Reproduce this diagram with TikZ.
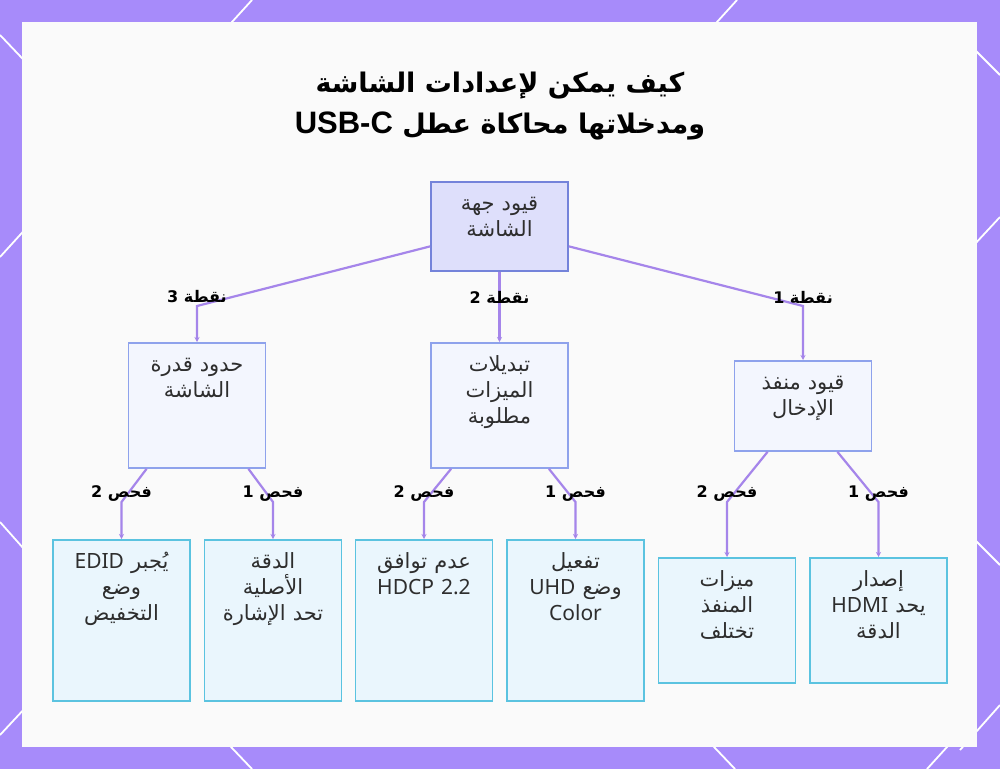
\documentclass[tikz,border=0pt]{standalone}
\usepackage{fontspec}
\setmainfont{Noto Sans}
\newfontfamily\arabicfont[Script=Arabic]{DejaVu Sans}
\newfontfamily\titlelatin{Liberation Sans}
\TeXXeTstate=1
\usetikzlibrary{calc,arrows.meta}

\definecolor{bgpurple}{HTML}{A78BFA}
\definecolor{panelcol}{HTML}{FAFAFA}
\definecolor{linecol}{HTML}{A585EA}
\definecolor{rootfill}{HTML}{DEDFFB}
\definecolor{rootdraw}{HTML}{7483DA}
\definecolor{midfill}{HTML}{F3F6FE}
\definecolor{middraw}{HTML}{8EA2EC}
\definecolor{leaffill}{HTML}{EAF6FD}
\definecolor{leafdraw}{HTML}{5BC3E0}
\definecolor{textcol}{HTML}{2E2E2E}

\newcommand{\ar}[1]{{\arabicfont\beginR #1\endR}}
\newcommand{\lat}[1]{\beginL{\rmfamily #1}\endL}

\begin{document}
\begin{tikzpicture}[x=1pt,y=-1pt,
  conn/.style={draw=linecol, line width=2.2pt, -{Stealth[length=5pt,width=5pt]}},
  bgline/.style={draw=white, line width=1.8pt},
  lbl/.style={font=\bfseries\fontsize{16}{18}\selectfont, text=black, inner sep=1pt},
  box/.style={draw, line width=1.8pt, text width=121pt, inner xsep=8pt, inner ysep=0pt,
    align=center, anchor=north, text height=29pt, text=textcol,
    font=\fontsize{21}{26}\selectfont},
  rootbox/.style={box, fill=rootfill, draw=rootdraw},
  midbox/.style={box, fill=midfill, draw=middraw},
  leafbox/.style={box, fill=leaffill, draw=leafdraw}]

  \useasboundingbox (0,0) rectangle (1000,769);
  \fill[bgpurple] (0,0) rectangle (1000,769);
  \draw[bgline] (0,35) -- (40,77);
  \draw[bgline] (0,257) -- (40,213);
  \draw[bgline] (0,522) -- (40,567);
  \draw[bgline] (0,735) -- (40,692);
  \draw[bgline] (960,35) -- (1000,75);
  \draw[bgline] (960,260) -- (1000,217);
  \draw[bgline] (960,525) -- (1000,565);
  \draw[bgline] (960,750) -- (1000,705);
  \draw[bgline] (212,44) -- (252,0);
  \draw[bgline] (697,44) -- (737,0);
  \draw[bgline] (212,727) -- (252,769);
  \draw[bgline] (695,727) -- (735,769);
  \draw[bgline] (927,769) -- (967,725);
  \fill[panelcol] (22,22) rectangle (977,747);

  \node[font=\bfseries\fontsize{27}{41}\selectfont, text=black, align=center] (title) at (500,106)
    {\ar{كيف يمكن لإعدادات الشاشة}\\\ar{ومدخلاتها محاكاة عطل \beginL{\titlelatin\bfseries\fontsize{31}{41}\selectfont USB-C}\endL}};

  \node[rootbox, text depth=60pt] (root) at (499.5,181) {\ar{قيود جهة}\\\ar{الشاشة}};

  \node[midbox, text depth=96pt] (lim) at (197,342) {\ar{حدود قدرة}\\\ar{الشاشة}};
  \node[midbox, text depth=96pt] (feat) at (499.5,342) {\ar{تبديلات}\\\ar{الميزات}\\\ar{مطلوبة}};
  \node[midbox, text depth=61pt] (port) at (803,360) {\ar{قيود منفذ}\\\ar{الإدخال}};

  \node[leafbox, text depth=132pt] (edid) at (121.5,539) {\ar{يُجبر \lat{EDID}}\\\ar{وضع}\\\ar{التخفيض}};
  \node[leafbox, text depth=132pt] (native) at (273,539) {\ar{الدقة}\\\ar{الأصلية}\\\ar{تحد الإشارة}};
  \node[leafbox, text depth=132pt] (hdcp) at (424,539) {\ar{عدم توافق}\\HDCP 2.2};
  \node[leafbox, text depth=132pt] (uhd) at (575.5,539) {\ar{تفعيل}\\\ar{وضع \lat{UHD}}\\Color};
  \node[leafbox, text depth=96pt] (feats) at (727,557) {\ar{ميزات}\\\ar{المنفذ}\\\ar{تختلف}};
  \node[leafbox, text depth=96pt] (hdmi) at (878.5,557) {\ar{إصدار}\\\ar{يحد \lat{HDMI}}\\\ar{الدقة}};

  \draw[conn] ($(root.north west)!0.72!(root.south west)$) -- ([yshift=36pt]lim.north) -- (lim.north);
  \draw[conn] (root.south) -- (feat.north);
  \draw[conn] ($(root.north east)!0.72!(root.south east)$) -- ([yshift=54pt]port.north) -- (port.north);

  \draw[conn] ([xshift=19pt]lim.south west) -- ([yshift=37pt]edid.north) -- (edid.north);
  \draw[conn] ([xshift=-18pt]lim.south east) -- ([yshift=37pt]native.north) -- (native.north);
  \draw[conn] ([xshift=21pt]feat.south west) -- ([yshift=37pt]hdcp.north) -- (hdcp.north);
  \draw[conn] ([xshift=-20pt]feat.south east) -- ([yshift=37pt]uhd.north) -- (uhd.north);
  \draw[conn] ([xshift=34pt]port.south west) -- ([yshift=55pt]feats.north) -- (feats.north);
  \draw[conn] ([xshift=-35pt]port.south east) -- ([yshift=55pt]hdmi.north) -- (hdmi.north);

  \node[lbl] (p3) at (197,297) {\ar{نقطة 3}};
  \node[lbl] (p2) at (499.5,297) {\ar{نقطة 2}};
  \node[lbl] (p1) at (803,297) {\ar{نقطة 1}};
  \node[lbl] (c2a) at (121.5,494) {\ar{فحص 2}};
  \node[lbl] (c1a) at (273,494) {\ar{فحص 1}};
  \node[lbl] (c2b) at (424,494) {\ar{فحص 2}};
  \node[lbl] (c1b) at (575.5,494) {\ar{فحص 1}};
  \node[lbl] (c2c) at (727,494) {\ar{فحص 2}};
  \node[lbl] (c1c) at (878.5,494) {\ar{فحص 1}};
\end{tikzpicture}
\end{document}
